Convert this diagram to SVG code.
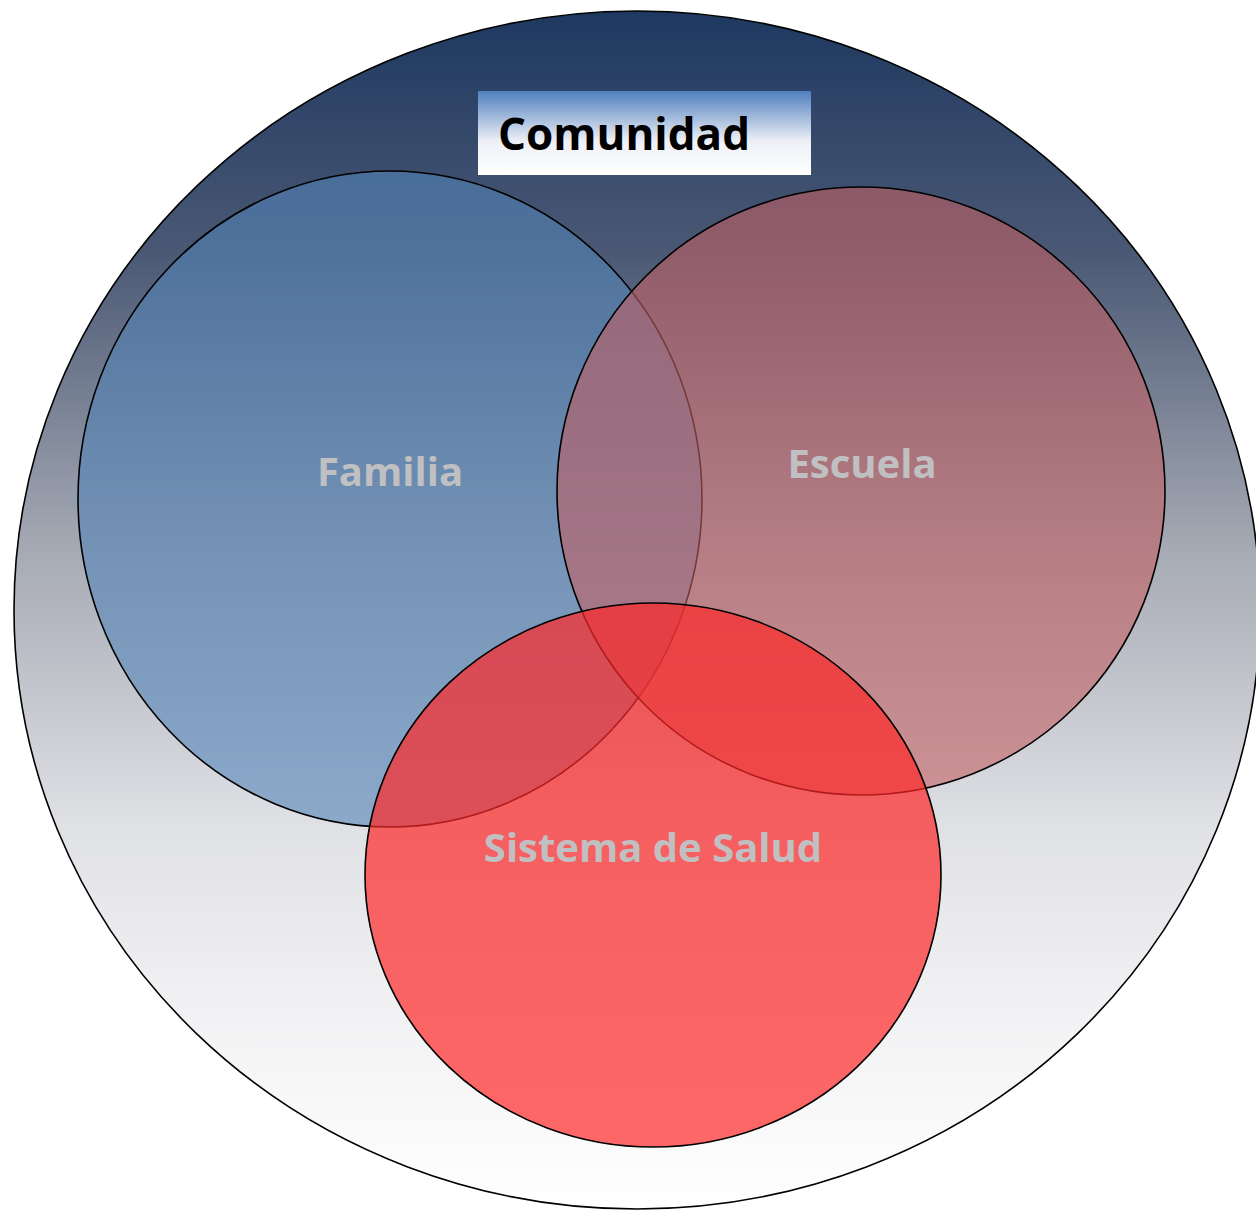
<svg xmlns="http://www.w3.org/2000/svg" width="1256" height="1211" viewBox="0 0 1256 1211">
<defs>
<linearGradient id="bg" x1="0" y1="0" x2="0" y2="1">
<stop offset="0" stop-color="#1e3860"/>
<stop offset="0.2" stop-color="#4a5874"/>
<stop offset="0.45" stop-color="#a6aab4"/>
<stop offset="0.68" stop-color="#e0e1e5"/>
<stop offset="0.85" stop-color="#f3f3f5"/>
<stop offset="1" stop-color="#ffffff"/>
</linearGradient>
<linearGradient id="box" x1="0" y1="0" x2="0" y2="1">
<stop offset="0" stop-color="#4f7fbf"/>
<stop offset="0.6" stop-color="#eef0f6"/>
<stop offset="1" stop-color="#ffffff"/>
</linearGradient>
<style>
.edge{stroke:#000;stroke-width:1.6}
.lbl{font-family:"Open Sans","Liberation Sans",sans-serif;font-weight:bold;font-size:40px;fill:#c0c0c2;text-anchor:middle}
</style>
</defs>
<g id="comunidad">
<ellipse cx="637" cy="610" rx="623" ry="599" fill="url(#bg)" class="edge"/>
<rect x="478" y="91" width="333" height="84" fill="url(#box)"/>
<text x="498" y="150" font-family="'Open Sans','Liberation Sans',sans-serif" font-weight="bold" font-size="45" fill="#000" textLength="252" lengthAdjust="spacingAndGlyphs">Comunidad</text>
</g>
<g id="familia">
<ellipse cx="390" cy="499" rx="312" ry="328" fill="#5384b7" fill-opacity="0.6" class="edge"/>
<text x="390" y="486" class="lbl">Familia</text>
</g>
<g id="escuela">
<ellipse cx="861" cy="491" rx="304" ry="304" fill="#c16164" fill-opacity="0.6" class="edge"/>
<text x="862" y="478" class="lbl">Escuela</text>
</g>
<g id="salud">
<ellipse cx="653" cy="875" rx="288" ry="272" fill="#ff2828" fill-opacity="0.7" class="edge"/>
<text x="653" y="862" class="lbl">Sistema de Salud</text>
</g>
<g id="connectors"/>
</svg>
